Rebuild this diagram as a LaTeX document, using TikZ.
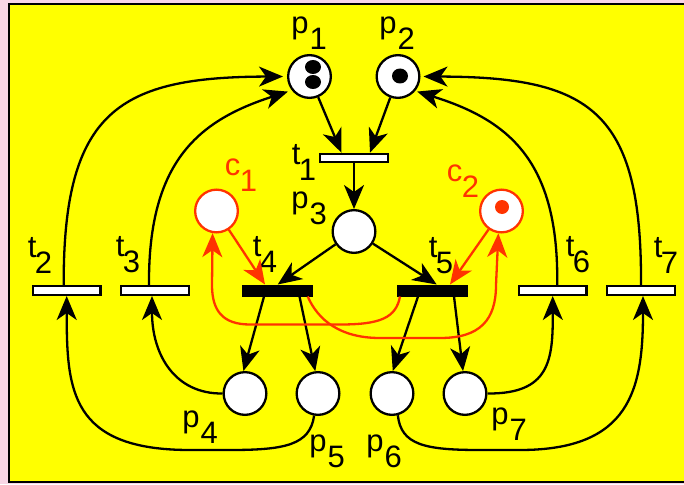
\documentclass[tikz,border=0pt]{standalone}
\usepackage{fontspec}
\setmainfont{Liberation Sans}
\usetikzlibrary{arrows.meta}
\definecolor{bgpink}{RGB}{249,214,229}
\definecolor{petriyellow}{RGB}{255,255,0}
\definecolor{petrired}{RGB}{255,51,0}
\newcommand{\sublab}[3][0pt]{#2\kern#1\raisebox{-16pt}{#3}}
\begin{document}
\begin{tikzpicture}[x=1pt,y=-1pt,
  place/.style={circle,draw,line width=2.3pt,fill=white,minimum size=42.7pt,inner sep=0pt},
  cplace/.style={place,draw=petrired},
  trans/.style={rectangle,draw,line width=2.3pt,fill=white,minimum width=67.7pt,minimum height=8.7pt,inner sep=0pt},
  btrans/.style={trans,fill=black,minimum width=68.7pt,minimum height=9.7pt},
  arc/.style={line width=2.3pt,-{Stealth[length=24pt,width=20pt,inset=7pt]}},
  carc/.style={arc,draw=petrired},
  lbl/.style={font=\fontsize{31}{32}\selectfont,inner sep=0pt},
  clbl/.style={lbl,text=petrired}
]
\useasboundingbox (0,0) rectangle (684,484);
\fill[bgpink] (0,0) rectangle (684,484);
\draw[line width=2pt,fill=petriyellow] (9,4) rectangle (700,481.5);

% places
\node[place] (p1) at (309.5,76.5) {};
\node[place] (p2) at (398,76.5) {};
\node[place] (p3) at (354,231.5) {};
\node[cplace] (c1) at (216.5,211) {};
\node[cplace] (c2) at (501.5,211) {};
\node[place] (p4) at (245,393.5) {};
\node[place] (p5) at (318,393.5) {};
\node[place] (p6) at (392,393.5) {};
\node[place] (p7) at (465,393.5) {};

% tokens
\fill (313,67) ellipse [x radius=8pt,y radius=7pt];
\fill (313,82) ellipse [x radius=8pt,y radius=7pt];
\fill (400,76) ellipse [x radius=8pt,y radius=7.5pt];
\fill[petrired] (502,207) circle (7pt);

% transitions
\node[trans,minimum height=8.3pt] (t1) at (354,158) {};
\node[trans] (t2) at (66.7,290.5) {};
\node[trans] (t3) at (155,290.5) {};
\node[btrans] (t4) at (277.7,290.5) {};
\node[btrans] (t5) at (432,290.5) {};
\node[trans] (t6) at (552.7,290.5) {};
\node[trans] (t7) at (641,290.5) {};

% labels
\node[lbl] (lp1) at (309,33) {\sublab[1pt]{p}{1}};
\node[lbl] (lp2) at (397,33) {\sublab[1pt]{p}{2}};
\node[lbl] (lp3) at (309,208) {\sublab[1pt]{p}{3}};
\node[lbl] (lp4) at (200,427) {\sublab[1pt]{p}{4}};
\node[lbl] (lp5) at (327,451) {\sublab[1pt]{p}{5}};
\node[lbl] (lp6) at (384,451) {\sublab[1pt]{p}{6}};
\node[lbl] (lp7) at (509,424) {\sublab[1pt]{p}{7}};
\node[lbl] (lt1) at (304,162) {\sublab[-1.5pt]{t}{1}};
\node[lbl] (lt2) at (40,255) {\sublab[-1.5pt]{t}{2}};
\node[lbl] (lt3) at (128,255) {\sublab[-1.5pt]{t}{3}};
\node[lbl] (lt4) at (265,254) {\sublab[-1.5pt]{t}{4}};
\node[lbl] (lt5) at (441,256) {\sublab[-1.5pt]{t}{5}};
\node[lbl] (lt6) at (578,255) {\sublab[-1.5pt]{t}{6}};
\node[lbl] (lt7) at (666,255) {\sublab[-1.5pt]{t}{7}};
\node[clbl] (lc1) at (241,175) {\sublab[-0.5pt]{c}{1}};
\node[clbl] (lc2) at (463,181) {\sublab[-0.5pt]{c}{2}};

% arcs
\draw[arc] (p1) -- ([xshift=-12.5pt]t1.north);
\draw[arc] (p2) -- ([xshift=16pt]t1.north);
\draw[arc] (t1) -- (p3);
\draw[arc] (p3) -- (t4.north);
\draw[arc] (p3) -- ([xshift=4.7pt]t5.north);
\draw[carc] (c1) -- ([xshift=-12.7pt]t4.north);
\draw[carc] (c2) -- ([xshift=18pt]t5.north);

\draw[arc] ([xshift=-13.7pt]t4.south) -- (p4.94);
\draw[arc] ([xshift=21.8pt]t4.south) -- (p5.97);
\draw[arc] ([xshift=-14pt]t5.south) -- (p6.88);
\draw[arc] ([xshift=22pt]t5.south) -- (p7.95);

\draw[carc] ([xshift=-32pt]t5.south) .. controls (396,318) and (380,324.5) .. (340,324.5) -- (250,324.5) .. controls (222,324.5) and (212,310) .. (212,285) -- (c1.-100);
\draw[carc] ([xshift=30pt]t4.south) .. controls (318,320) and (340,338) .. (380,338) -- (440,338) .. controls (480,338) and (496,320) .. (496,285) -- (c2.-98);

\draw[arc] (p4.west) .. controls (175,394) and (152,355) .. ([xshift=-3pt]t3.south);
\draw[arc] (p5.-100) .. controls (310,445) and (285,450) .. (230,450) -- (190,450) .. controls (70,450) and (66.7,390) .. (t2.south);
\draw[arc] (p6.-75) .. controls (401,445) and (425,450) .. (480,450) -- (520,450) .. controls (630,450) and (643,390) .. ([xshift=2pt]t7.south);
\draw[arc] (p7.east) .. controls (550,394) and (553,360) .. (t6.south);

\draw[arc,shorten >=4pt] ([xshift=-3pt]t2.north) .. controls (63,110) and (120,77) .. (p1.west);
\draw[arc,shorten >=4pt] ([xshift=-6pt]t3.north) .. controls (148,160) and (200,120) .. (p1.-142);
\draw[arc,shorten >=2pt] ([xshift=4.5pt]t6.north) .. controls (559,160) and (508,120) .. (p2.-40);
\draw[arc,shorten >=3pt] (t7.north) .. controls (642,110) and (590,77) .. (p2.east);
\end{tikzpicture}
\end{document}
